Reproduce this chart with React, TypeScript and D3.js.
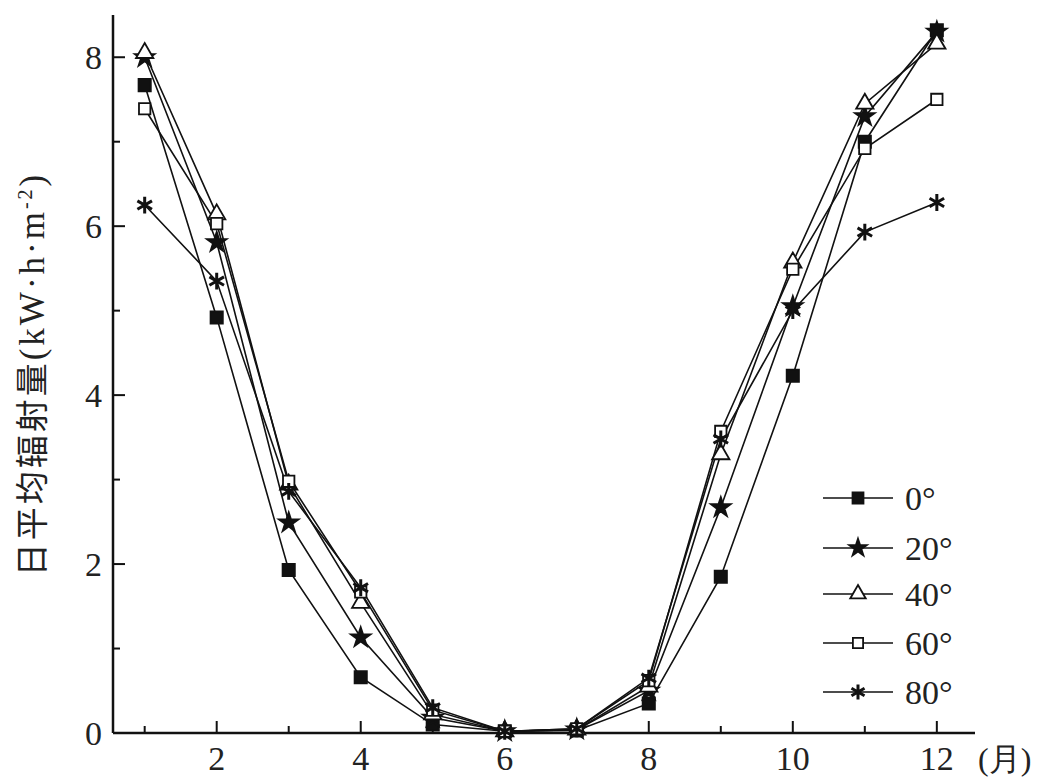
import React from 'react';
import * as d3 from 'd3';

const months = [1, 2, 3, 4, 5, 6, 7, 8, 9, 10, 11, 12];
const xTicksMajor = [2, 4, 6, 8, 10, 12];
const xTicksMinor = [1, 3, 5, 7, 9, 11];
const yTicksMajor = [0, 2, 4, 6, 8];
const yTicksMinor = [1, 3, 5, 7];

const angles = ['0°', '20°', '40°', '60°', '80°'];
const series0 = [7.67, 4.92, 1.93, 0.66, 0.1, 0.02, 0.03, 0.35, 1.85, 4.23, 7.0, 8.32];
const series20 = [8.0, 5.81, 2.49, 1.13, 0.18, 0.02, 0.04, 0.5, 2.67, 5.05, 7.3, 8.3];
const series40 = [8.05, 6.14, 2.94, 1.54, 0.22, 0.02, 0.04, 0.55, 3.3, 5.57, 7.45, 8.16];
const series60 = [7.39, 6.03, 2.98, 1.67, 0.27, 0.02, 0.05, 0.62, 3.57, 5.49, 6.92, 7.5];
const series80 = [6.25, 5.35, 2.86, 1.72, 0.3, 0.02, 0.05, 0.65, 3.48, 5.0, 5.93, 6.28];

const allSeries = [series0, series20, series40, series60, series80];

// marker style per series: symbol, filled?
const symbols = [d3.symbolSquare, d3.symbolStar, d3.symbolTriangle, d3.symbolSquare, d3.symbolAsterisk];
const filled = [true, true, false, false, true];
const sizes = [150, 120, 130, 130, 200];

const font = '"Liberation Serif", "DejaVu Serif", serif';

export default function App() {
  const width = 1045;
  const height = 780;

  // Set up the scales (month 2 at 217px, month 12 at 937px)
  const x = d3.scaleLinear().domain([0.56, 12.53]).range([113, 975]);
  const y = d3.scaleLinear().domain([0, 8.5]).range([733, 15]);

  const line = d3
    .line<number>()
    .x((d, i) => x(months[i]))
    .y(d => y(d));

  const marker = (i: number, k = 1) => d3.symbol().type(symbols[i]).size(sizes[i] * k)();

  return (
    <svg
      width={width}
      height={height}
      style={{ position: 'absolute', left: 0, top: 0, background: '#fff' }}
    >
      {/* axes */}
      <line x1={x.range()[0]} y1={y(0)} x2={x.range()[1]} y2={y(0)} stroke="#111" strokeWidth={2.5} />
      <line x1={x.range()[0]} y1={y.range()[0]} x2={x.range()[0]} y2={y.range()[1]} stroke="#111" strokeWidth={2.5} />

      {/* x ticks, pointing inward */}
      {xTicksMajor.map(t => (
        <g key={'xm' + t}>
          <line x1={x(t)} x2={x(t)} y1={y(0)} y2={y(0) - 12} stroke="#111" strokeWidth={2} />
          <text x={x(t)} y={770} textAnchor="middle" fontFamily={font} fontSize={34} fill="#222">
            {t}
          </text>
        </g>
      ))}
      {xTicksMinor.map(t => (
        <line key={'xn' + t} x1={x(t)} x2={x(t)} y1={y(0)} y2={y(0) - 7} stroke="#111" strokeWidth={2} />
      ))}
      <text x={978} y={770} fontFamily={font} fontSize={32} fill="#222">
        (月)
      </text>

      {/* y ticks */}
      {yTicksMajor.map(t => (
        <g key={'ym' + t}>
          <line x1={x.range()[0]} x2={x.range()[0] + 12} y1={y(t)} y2={y(t)} stroke="#111" strokeWidth={2} />
          <text
            x={102}
            y={y(t)}
            dy="0.35em"
            textAnchor="end"
            fontFamily={font}
            fontSize={34}
            fill="#222"
          >
            {t}
          </text>
        </g>
      ))}
      {yTicksMinor.map(t => (
        <line key={'yn' + t} x1={x.range()[0]} x2={x.range()[0] + 7} y1={y(t)} y2={y(t)} stroke="#111" strokeWidth={2} />
      ))}

      {/* y axis title */}
      <text
        transform="translate(44, 374) rotate(-90)"
        textAnchor="middle"
        fontFamily='"Noto Sans CJK SC", sans-serif'
        fontSize={33}
        letterSpacing={3}
        fill="#222"
      >
        日平均辐射量
        <tspan fontFamily={font} fontSize={35}>(kW·h·m</tspan>
        <tspan fontFamily={font} dy={-12} fontSize={20}>-2</tspan>
        <tspan fontFamily={font} dy={12} fontSize={35}>)</tspan>
      </text>

      {/* series lines */}
      {allSeries.map((s, i) => (
        <path key={'l' + i} d={line(s) || ''} fill="none" stroke="#111" strokeWidth={1.6} />
      ))}

      {/* markers */}
      {allSeries.map((s, i) =>
        s.map((v, j) => (
          <path
            key={'m' + i + '-' + j}
            d={marker(i) || ''}
            transform={`translate(${x(months[j])}, ${y(v)})`}
            fill={filled[i] ? '#111' : '#fff'}
            stroke="#111"
            strokeWidth={i === 4 ? 3 : 1.8}
          />
        ))
      )}

      {/* legend */}
      {angles.map((a, i) => {
        const ly = [498, 548, 594, 643, 692][i];
        return (
          <g key={'lg' + i}>
            <line x1={823} x2={893} y1={ly} y2={ly} stroke="#111" strokeWidth={1.6} />
            <path
              d={marker(i, 0.8) || ''}
              transform={`translate(858, ${ly})`}
              fill={filled[i] ? '#111' : '#fff'}
              stroke="#111"
              strokeWidth={i === 4 ? 3 : 1.8}
            />
            <text x={905} y={ly} dy="0.35em" fontFamily={font} fontSize={34} fill="#222">
              {a}
            </text>
          </g>
        );
      })}
    </svg>
  );
}
